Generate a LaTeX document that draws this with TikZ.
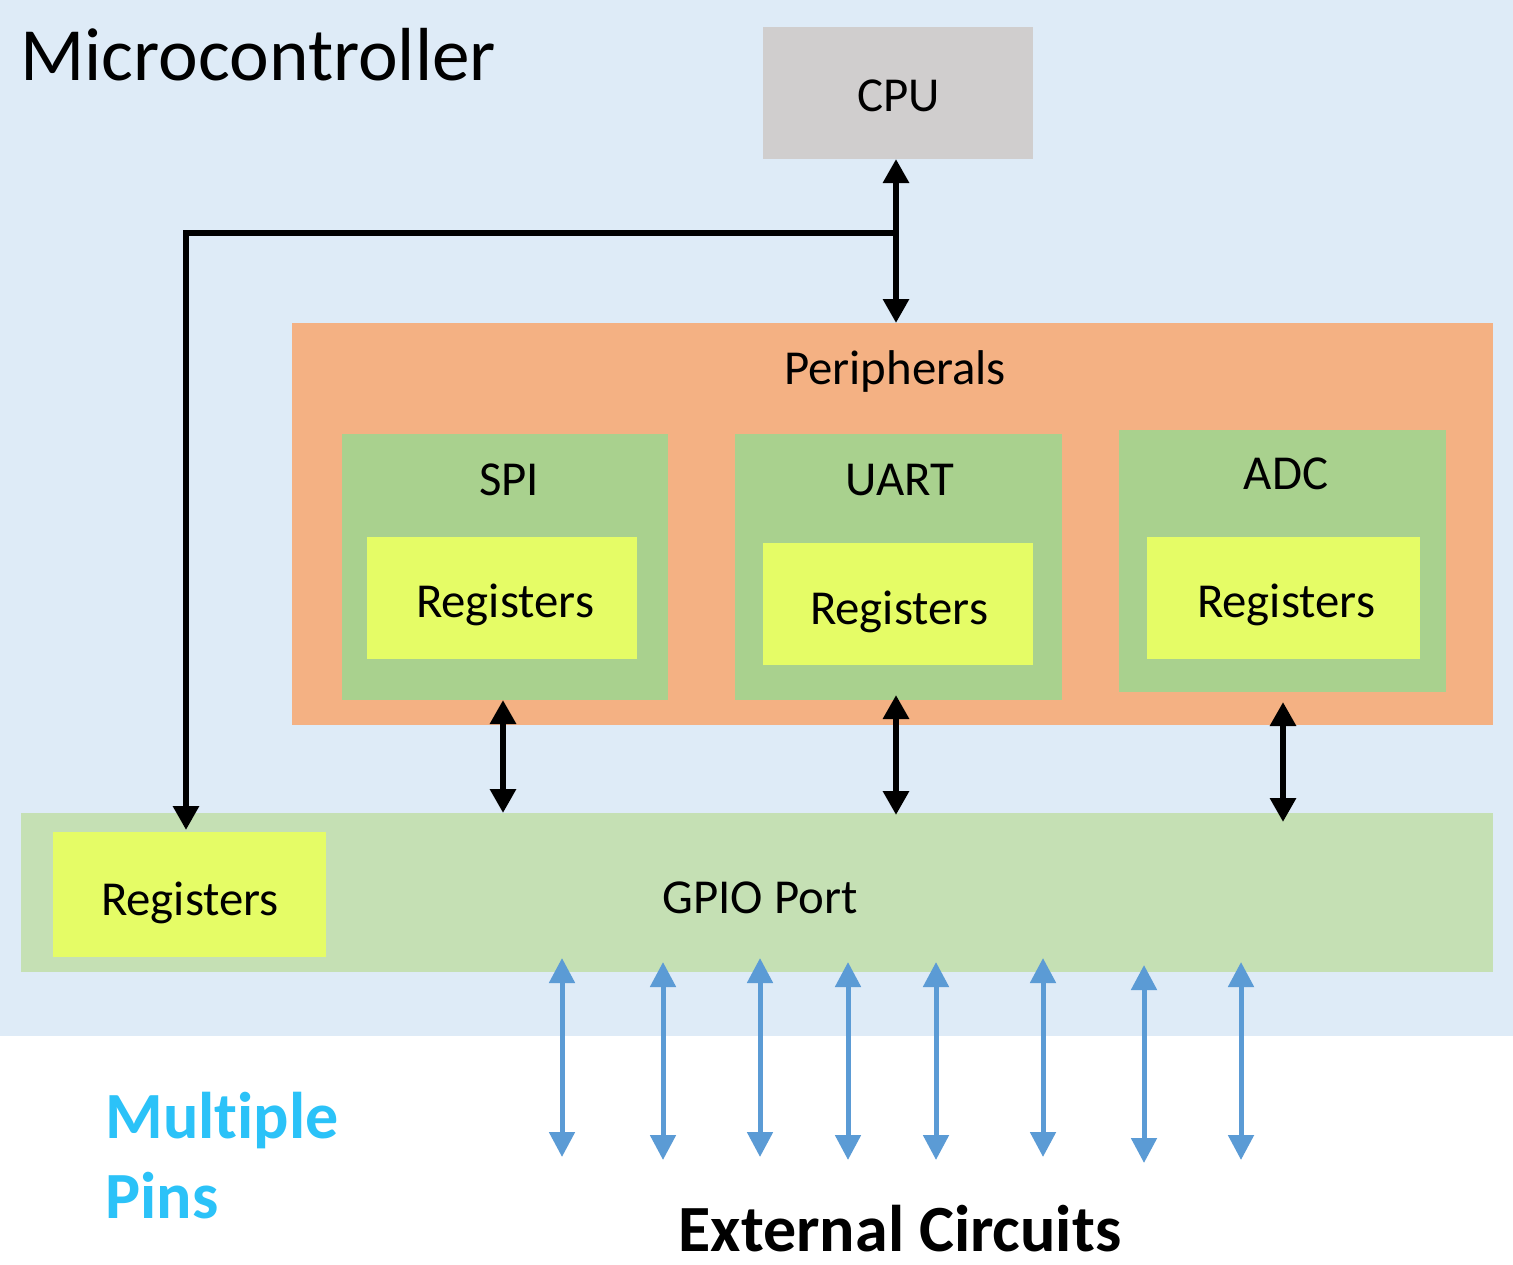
\documentclass[tikz,border=0pt]{standalone}
\usepackage{fontspec}
\setmainfont{Carlito}[Ligatures=NoCommon]
\usetikzlibrary{arrows.meta,fit}
\definecolor{bgblue}{HTML}{DEEBF7}
\definecolor{cpugray}{HTML}{D0CECE}
\definecolor{periorange}{HTML}{F4B183}
\definecolor{modgreen}{HTML}{A9D18E}
\definecolor{regyellow}{HTML}{E5FC66}
\definecolor{gpiogreen}{HTML}{C5E0B4}
\definecolor{pinblue}{HTML}{5B9BD5}
\definecolor{txtblue}{HTML}{2BC2F8}
\tikzset{
  box/.style={inner sep=0pt, outer sep=0pt, draw=none},
  lbl/.style={inner sep=0pt, anchor=base, font=\fontsize{24.4}{29}\selectfont},
  blkarr/.style={line width=3pt, {Triangle[length=12pt,width=12.5pt]}-{Triangle[length=12pt,width=12.5pt]}},
  bluearr/.style={line width=2.5pt, pinblue, {Triangle[length=12.5pt,width=12.5pt]}-{Triangle[length=12.5pt,width=12.5pt]}},
}
\begin{document}
\begin{tikzpicture}[x=0.5pt,y=-0.5pt]
\path[use as bounding box, fill=white] (0,0) rectangle (1513,1264);
% background
\node[box, fill=bgblue, fit={(0,0) (1513,1036)}] (mcu) {};
\node[lbl, anchor=base west, font=\fontsize{37.6}{44}\selectfont] (mcutitle) at (20,80) {Microcontroller};
% CPU
\node[box, fill=cpugray, fit={(763,27) (1033,159)}] (cpu) {};
\node[lbl] (cputxt) at (899,111) {CPU};
% Peripherals
\node[box, fill=periorange, fit={(292,323) (1493,725)}] (periph) {};
\node[lbl] (periphtxt) at (895,384) {Peripherals};
% SPI
\node[box, fill=modgreen, fit={(342,434) (668,700)}] (spi) {};
\node[lbl] (spitxt) at (509,495) {SPI};
\node[box, fill=regyellow, fit={(367,537) (637,659)}] (spireg) {};
\node[lbl] (spiregtxt) at (505,617) {Registers};
% UART
\node[box, fill=modgreen, fit={(735,434) (1062,700)}] (uart) {};
\node[lbl] (uarttxt) at (900,495) {UART};
\node[box, fill=regyellow, fit={(763,543) (1033,665)}] (uartreg) {};
\node[lbl] (uartregtxt) at (899,624) {Registers};
% ADC
\node[box, fill=modgreen, fit={(1119,430) (1446,692)}] (adc) {};
\node[lbl] (adctxt) at (1286,489) {ADC};
\node[box, fill=regyellow, fit={(1147,537) (1420,659)}] (adcreg) {};
\node[lbl] (adcregtxt) at (1286,617) {Registers};
% GPIO
\node[box, fill=gpiogreen, fit={(21,813) (1493,972)}] (gpio) {};
\node[lbl] (gpiotxt) at (760,913) {GPIO Port};
\node[box, fill=regyellow, fit={(53,832) (326,957)}] (gpioreg) {};
\node[lbl] (gpioregtxt) at (190,915) {Registers};
% bus coordinates
\coordinate (busR) at (896,233);
\coordinate (busL) at (186,233);
\coordinate (spix) at (503,0);
\coordinate (uartx) at (896,0);
\coordinate (adcx) at (1283,0);
% CPU <-> peripherals
\draw[blkarr] (cpu.south -| busR) -- (periph.north -| busR);
% bus to GPIO registers
\draw[line width=3pt, line join=miter, -{Triangle[length=12pt,width=12.5pt]}]
  (busR) -- (busL) -- ([yshift=1pt]gpioreg.north -| busL);
% peripherals <-> GPIO
\draw[blkarr] (spi.south -| spix) -- (gpio.north -| spix);
\draw[blkarr] ([yshift=2.5pt]uart.south -| uartx) -- ([yshift=-1pt]gpio.north -| uartx);
\draw[blkarr] ([yshift=-5pt]adc.south -| adcx) -- ([yshift=-4.5pt]gpio.north -| adcx);
% pins
\foreach \px/\pt/\pb [count=\i] in {562/958/1157, 663/962/1160, 760/958/1157, 848/962/1160, 936/962/1160, 1043/958/1157, 1144/965/1163, 1241/962/1160}{
  \coordinate (pintop\i) at (\px,\pt);
  \coordinate (pinbot\i) at (\px,\pb);
  \draw[bluearr] (pintop\i) -- (pinbot\i);
}
% labels
\node[lbl, anchor=base west, font=\fontsize{33}{40}\bfseries\selectfont, text=txtblue] (mp1) at (105,1138) {Multiple};
\node[lbl, anchor=base west, font=\fontsize{33}{40}\bfseries\selectfont, text=txtblue] (mp2) at (105,1218) {Pins};
\node[lbl, font=\fontsize{33}{40}\bfseries\selectfont] (ext) at (900,1251) {External Circuits};
\end{tikzpicture}
\end{document}
